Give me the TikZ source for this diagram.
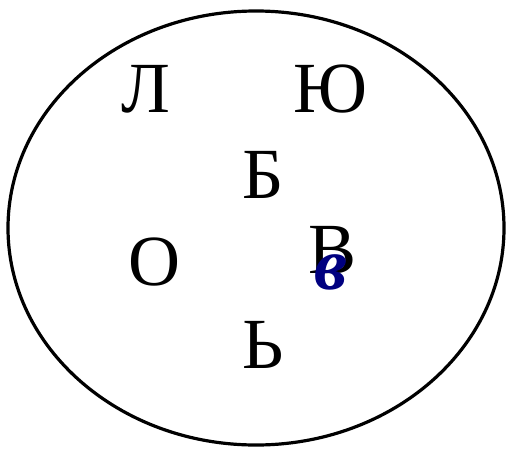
\documentclass[tikz,border=0pt]{standalone}
\usepackage{fontspec}
\setmainfont{Liberation Serif}
\usetikzlibrary{shapes.geometric}

\begin{document}
\begin{tikzpicture}[
  x=1pt, y=-1pt,
  every node/.style={inner sep=0pt, align=center},
  set/.style={draw, ellipse, line width=3.2pt, minimum width=496pt, minimum height=434pt},
  letter/.style={font=\fontsize{72}{72}\selectfont},
  handmark/.style={text=blue!50!black, font=\fontsize{74}{74}\selectfont\bfseries\itshape}
]

\useasboundingbox (0,0) rectangle (510,452);

% Set
\node[set] (setA) at (256,228) {};

% Letters
\node[letter] (el) at (146,89) {Л};
\node[letter] (yu) at (330,89) {Ю};
\node[letter] (be) at (263,175) {Б};
\node[letter] (o) at (154,262) {О};
\node[letter] (ve) at (333,250) {В};
\node[letter] (soft) at (263,345) {Ь};

% Handwritten mark
\node[handmark] (vesmall) at (331,272) {в};

\end{tikzpicture}
\end{document}
